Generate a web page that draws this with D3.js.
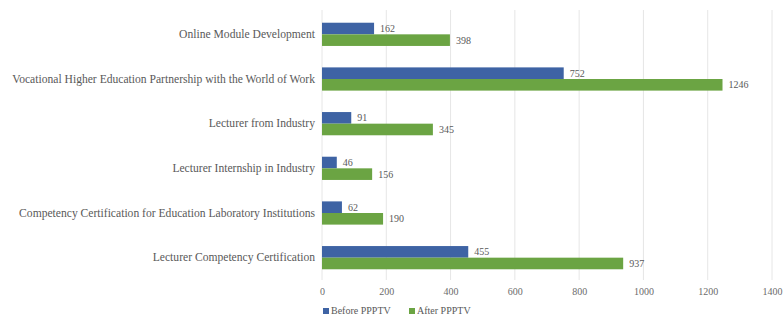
<!DOCTYPE html>
<html>
<head>
<meta charset="utf-8">
<script src="https://cdn.jsdelivr.net/npm/d3@7"></script>
<style>
body { margin: 0; background: #fff; }
svg text { font-family: "Liberation Serif", "DejaVu Serif", serif; }
</style>
</head>
<body>
<div class="content"></div>
<script>
var categories = [
  "Online Module Development",
  "Vocational Higher Education Partnership with the World of Work",
  "Lecturer from Industry",
  "Lecturer Internship in Industry",
  "Competency Certification for Education Laboratory Institutions",
  "Lecturer Competency Certification"
];
var beforeVals = [162, 752, 91, 46, 62, 455];
var afterVals = [398, 1246, 345, 156, 190, 937];
var seriesNames = ["Before PPPTV", "After PPPTV"];
var xTicks = [0, 200, 400, 600, 800, 1000, 1200, 1400];

var width = 783;
var height = 321;
var colors = ["#3e63a4", "#6ba443"];
var svg = d3.select(".content").append("svg").attr("width", width).attr("height", height);

var x = d3.scaleLinear().domain([0, 1400]).range([322, 772]);
var y = d3.scaleBand().domain(categories).range([12, 280]).paddingInner(0.48).paddingOuter(0.24);
var sub = d3.scaleBand().domain([0, 1]).range([0, y.bandwidth()]);

// grid
svg.append("g").selectAll("line").data(xTicks).enter().append("line")
  .attr("x1", function(d){ return x(d); }).attr("x2", function(d){ return x(d); })
  .attr("y1", 10).attr("y2", 280)
  .attr("stroke", "#e6e6e6").attr("stroke-width", 1);

var rows = categories.map(function(c, i){ return {cat: c, vals: [beforeVals[i], afterVals[i]]}; });

var g = svg.append("g").selectAll("g").data(rows).enter().append("g")
  .attr("transform", function(d){ return "translate(0," + y(d.cat) + ")"; });

g.selectAll("rect").data(function(d){ return d.vals; }).enter().append("rect")
  .attr("x", x(0))
  .attr("y", function(d, i){ return sub(i); })
  .attr("width", function(d){ return x(d) - x(0); })
  .attr("height", sub.bandwidth())
  .attr("fill", function(d, i){ return colors[i]; });

g.selectAll("text.val").data(function(d){ return d.vals; }).enter().append("text")
  .attr("class", "val")
  .attr("x", function(d){ return x(d) + 6; })
  .attr("y", function(d, i){ return sub(i) + sub.bandwidth() / 2 + 3.5; })
  .style("font-size", "10px")
  .attr("fill", "#595959")
  .text(function(d){ return d; });

// category labels
var yAxis = svg.append("g").attr("transform", "translate(" + x(0) + ",0)")
  .call(d3.axisLeft(y).tickSize(0).tickPadding(7));
yAxis.select(".domain").remove();
yAxis.attr("font-family", null).attr("font-size", null);
yAxis.selectAll("text").style("font-size", "11.6px").attr("fill", "#595959");

// x axis labels
var xAxis = svg.append("g").attr("transform", "translate(0,280)")
  .call(d3.axisBottom(x).tickValues(xTicks).tickFormat(d3.format("d")).tickSize(0).tickPadding(8));
xAxis.select(".domain").remove();
xAxis.attr("font-family", null).attr("font-size", null);
xAxis.selectAll("text").style("font-size", "10px").attr("fill", "#6b6b6b");

// legend
var leg = svg.append("g").selectAll("g").data(seriesNames).enter().append("g")
  .attr("transform", function(d, i){ return "translate(" + (323 + i * 86) + ",314)"; });
leg.append("rect").attr("x", 0).attr("y", -6).attr("width", 6).attr("height", 6)
  .attr("fill", function(d, i){ return colors[i]; });
leg.append("text").attr("x", 8).attr("y", 0)
  .style("font-size", "10px").attr("fill", "#595959")
  .text(function(d){ return d; });
</script>
</body>
</html>
